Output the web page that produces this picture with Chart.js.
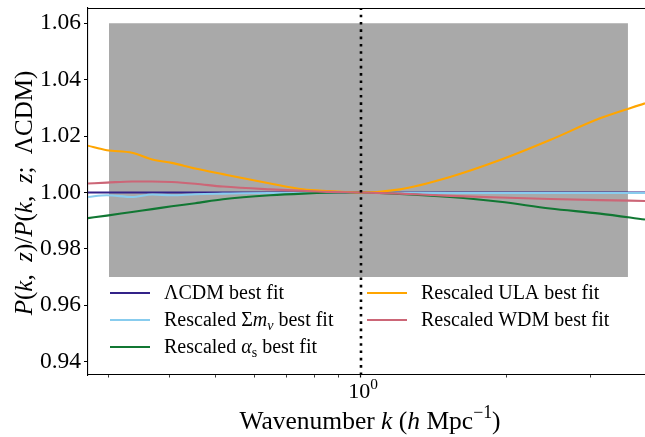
<!DOCTYPE html>
<html><head><meta charset="utf-8">
<script src="https://cdn.jsdelivr.net/npm/chart.js@4.4.1/dist/chart.umd.min.js"></script>
<style>html,body{margin:0;padding:0;background:#fff;overflow:hidden}canvas{display:block;background:#fff}</style>
</head><body>
<canvas id="c" width="645" height="437"></canvas>
<script>
// ---- data ----
const kValues  = [0.271, 0.297, 0.335, 0.369, 0.405, 0.453, 0.517, 0.648, 0.758, 0.862, 1.0, 1.205, 1.53, 1.943, 2.467, 3.132, 3.884];
const lcdmRatio = [1.0, 1.0, 1.0, 1.0, 1.0, 1.0, 1.0, 1.0, 1.0, 1.0, 1.0, 1.0, 1.0, 1.0, 1.0, 1.0, 1.0];
const mnuRatio  = [0.9984, 0.9990, 0.9984, 0.9993, 0.9990, 0.9994, 0.9996, 0.9998, 0.9998, 0.9999, 1.0, 0.9999, 0.9998, 0.9998, 0.9998, 0.9998, 0.9998];
const alphaRatio= [0.9909, 0.9918, 0.9931, 0.9941, 0.9951, 0.9962, 0.9976, 0.9990, 0.9996, 0.9999, 1.0, 0.9995, 0.9984, 0.9967, 0.9943, 0.9925, 0.9904];
const ulaRatio  = [1.0166, 1.0150, 1.0141, 1.0117, 1.0105, 1.0085, 1.0065, 1.0032, 1.0011, 1.0005, 1.0, 1.0011, 1.0055, 1.0115, 1.0186, 1.0263, 1.0316];
const wdmRatio  = [1.0032, 1.0035, 1.0039, 1.0039, 1.0037, 1.0031, 1.0021, 1.0011, 1.0006, 1.0002, 1.0, 0.9996, 0.9988, 0.9982, 0.9977, 0.9973, 0.9970];
const bandK     = [0.3, 3.58];
const bandTop   = [1.06, 1.06];
const bandBottom = 0.97;
const pivotK    = 1.0;
const yTicks    = [0.94, 0.96, 0.98, 1.00, 1.02, 1.04, 1.06];
const xTicks    = [0.3, 0.4, 0.5, 0.6, 0.7, 0.8, 0.9, 1, 2, 3];
const xRange    = [0.2714, 3.884];
const yRange    = [0.9353, 1.0654];
const seriesLabels = ['ΛCDM best fit', 'Rescaled Σmν best fit', 'Rescaled αs best fit', 'Rescaled ULA best fit', 'Rescaled WDM best fit'];
const xTitle = 'Wavenumber k (h Mpc−1)';
const yTitle = 'P(k, z)/P(k, z; ΛCDM)';

const colors = ['#332288', '#88CCEE', '#117733', '#FFA500', '#CC6677'];
const serif = "'Liberation Serif','DejaVu Serif',serif";

function pts(ys){ return kValues.map((k,i)=>({x:k, y:ys[i]})); }
const seriesData = [lcdmRatio, mnuRatio, alphaRatio, ulaRatio, wdmRatio];

const datasets = seriesData.map((ys,i)=>({
  label: seriesLabels[i], data: pts(ys), borderColor: colors[i], backgroundColor: colors[i],
  borderWidth: 2.1, pointRadius: 0, cubicInterpolationMode: 'monotone', fill: false, order: 5 - i
}));
datasets.push({
  label: 'band', data: bandK.map((k,i)=>({x:k, y:bandTop[i]})), borderWidth: 0, borderColor: 'rgba(0,0,0,0)',
  backgroundColor: '#a9a9a9', pointRadius: 0, fill: {value: bandBottom}, order: 20
});
datasets.push({
  label: 'pivot', data: [{x:pivotK, y:yRange[0]}, {x:pivotK, y:yRange[1]}], borderColor: '#000',
  borderWidth: 2.6, borderDash: [2.6, 4.7], pointRadius: 0, fill: false, order: 0
});

// rich text helpers
function segFont(s, size){ return (s.it ? 'italic ' : '') + size + 'px ' + serif; }
function segSize(s, size){ return (s.sub || s.sup) ? size * 0.7 : size; }
function richWidth(ctx, segs, size){
  let w = 0;
  for (const s of segs){ ctx.font = segFont(s, segSize(s,size)); w += ctx.measureText(s.t).width; }
  return w;
}
function drawRich(ctx, segs, x, y, size, align){
  const w = richWidth(ctx, segs, size);
  let cx = align === 'center' ? x - w/2 : (align === 'right' ? x - w : x);
  ctx.textAlign = 'left'; ctx.textBaseline = 'alphabetic'; ctx.fillStyle = '#000';
  for (const s of segs){
    const sz = segSize(s, size);
    ctx.font = segFont(s, sz);
    const dy = s.sub ? size*0.22 : (s.sup ? -size*0.42 : 0);
    ctx.fillText(s.t, cx, y + dy);
    cx += ctx.measureText(s.t).width;
  }
}

const legendSegs = [
  [{t:'ΛCDM best fit'}],
  [{t:'Rescaled Σ'},{t:'m',it:1},{t:'ν',it:1,sub:1},{t:' best fit'}],
  [{t:'Rescaled '},{t:'α',it:1},{t:'s',sub:1},{t:' best fit'}],
  [{t:'Rescaled ULA best fit'}],
  [{t:'Rescaled WDM best fit'}]
];
const legendPos = [[110,293],[110,320],[110,347],[367,293],[367,320]];

const overlay = {
  id: 'overlay',
  afterDraw(chart){
    const ctx = chart.ctx, a = chart.chartArea;
    ctx.save();
    // top spine
    ctx.strokeStyle = '#000'; ctx.lineWidth = 1.1;
    ctx.beginPath(); ctx.moveTo(a.left, a.top + 0.5); ctx.lineTo(a.right, a.top + 0.5); ctx.stroke();
    // x tick label 10^0
    const px = chart.scales.x.getPixelForValue(pivotK);
    drawRich(ctx, [{t:'10'},{t:'0',sup:1}], px + 2, 398, 22, 'center');
    // x title
    drawRich(ctx, [{t:'Wavenumber '},{t:'k',it:1},{t:' ('},{t:'h',it:1},{t:' Mpc'},{t:'−1',sup:1},{t:')'}], 370, 429, 25.5, 'center');
    // y title
    ctx.save(); ctx.translate(32, 193); ctx.rotate(-Math.PI/2);
    drawRich(ctx, [{t:'P',it:1},{t:'('},{t:'k',it:1},{t:',  '},{t:'z',it:1},{t:')/'},{t:'P',it:1},{t:'('},{t:'k',it:1},{t:',  '},{t:'z',it:1},{t:';  ΛCDM)'}], 0, 0, 25, 'center');
    ctx.restore();
    // legend
    legendSegs.forEach((segs,i)=>{
      const [lx, ly] = legendPos[i];
      ctx.strokeStyle = colors[i]; ctx.lineWidth = 2.1; ctx.setLineDash([]);
      ctx.beginPath(); ctx.moveTo(lx, ly); ctx.lineTo(lx + 40, ly); ctx.stroke();
      drawRich(ctx, segs, lx + 54, ly + 6, 20, 'left');
    });
    ctx.restore();
  }
};

new Chart(document.getElementById('c'), {
  type: 'line',
  data: { datasets },
  options: {
    responsive: false, animation: false, devicePixelRatio: 1,
    layout: { padding: { top: 8, left: 0, right: 0, bottom: 0 } },
    plugins: { legend: { display: false }, tooltip: { enabled: false } },
    scales: {
      x: {
        type: 'logarithmic', min: xRange[0], max: xRange[1],
        afterBuildTicks: s => { s.ticks = xTicks.map(v => ({value: v})); },
        afterFit: s => { s.height = 62; s.paddingLeft = 0; s.paddingRight = 0; },
        ticks: { display: false },
        grid: { drawOnChartArea: false, drawTicks: true, tickLength: 2.5, tickColor: '#000',
                tickWidth: c => (c.tick && c.tick.value === 1) ? 1.2 : 0.8 },
        border: { display: true, color: '#000', width: 1.1 }
      },
      y: {
        type: 'linear', min: yRange[0], max: yRange[1],
        afterBuildTicks: s => { s.ticks = yTicks.map(v => ({value: v})); },
        afterFit: s => { s.width = 88; s.paddingTop = 0; s.paddingBottom = 0; },
        ticks: { callback: v => Number(v).toFixed(2), color: '#000', padding: 3,
                 font: { family: serif, size: 23.5 } },
        grid: { drawOnChartArea: false, drawTicks: true, tickLength: 4, tickColor: '#000', tickWidth: 1 },
        border: { display: true, color: '#000', width: 1.1 }
      }
    }
  },
  plugins: [overlay]
});
</script>
</body></html>
